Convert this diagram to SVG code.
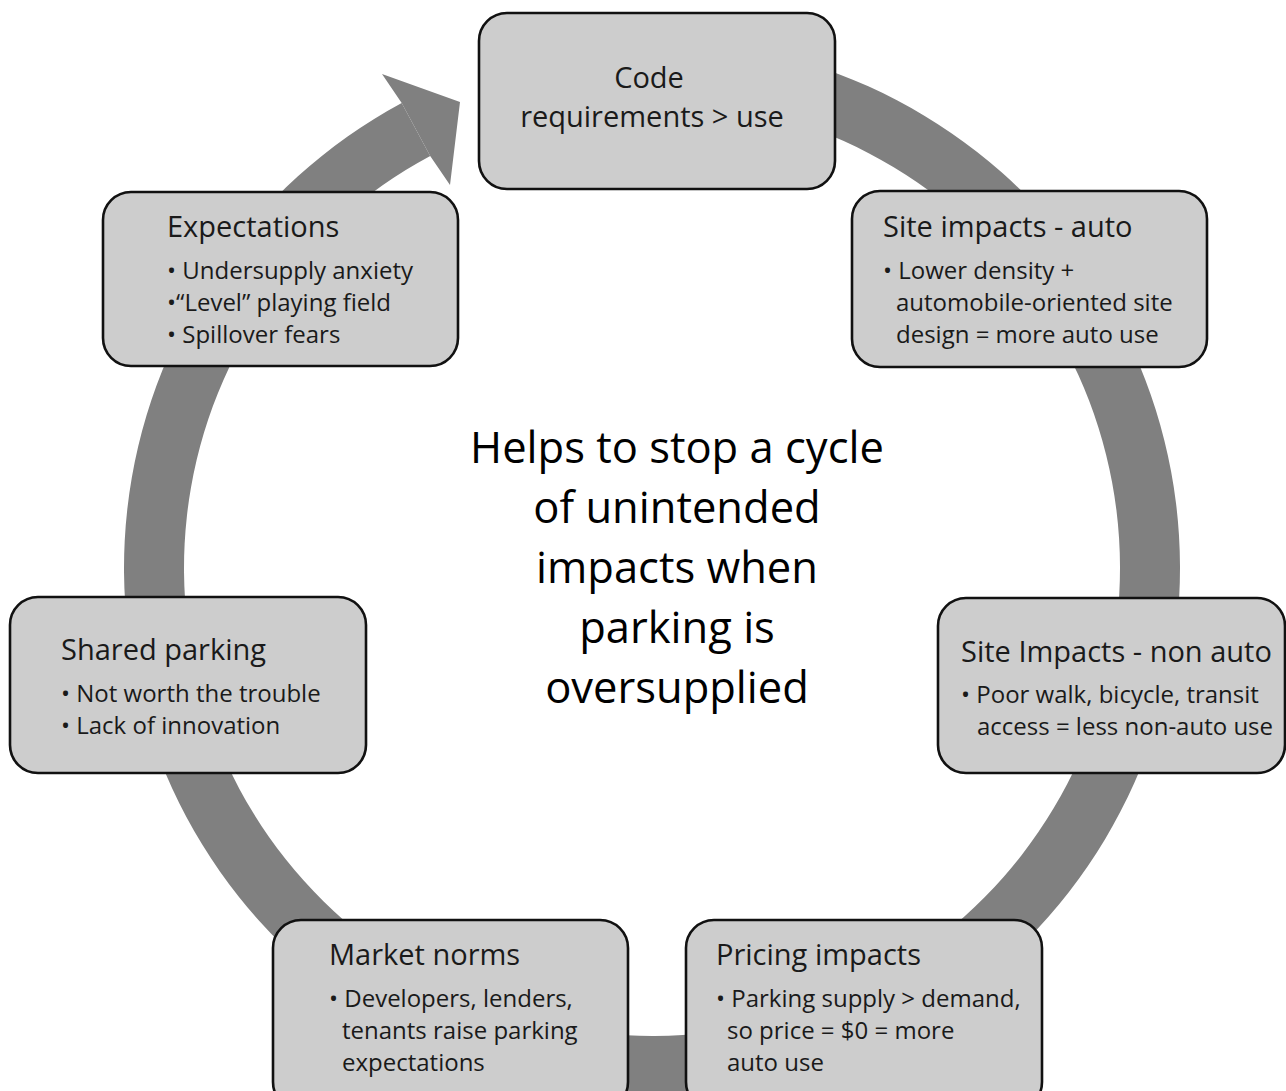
<svg xmlns="http://www.w3.org/2000/svg" width="1286" height="1091" viewBox="0 0 1286 1091">
<style>
.box{fill:#cdcdcd;stroke:#111;stroke-width:2.6}
.t{font-family:"Open Sans","DejaVu Sans",sans-serif;fill:#1a1a1a}
.title{font-size:29px}
.b{font-size:24px}
.center{font-family:"Open Sans","DejaVu Sans",sans-serif;font-size:43.5px;fill:#000;text-anchor:middle}
.ring{fill:#808080}
</style>
<rect width="1286" height="1091" fill="#fff"/>
<g id="connectors">
<path class="ring" d="M652,40 A528,528 0 1 1 401.7,103.1 L430.2,155.9 A468,468 0 1 0 652,100 Z"/>
<polygon class="ring" points="401.7,103.1 382,74 460,102 450,185 430.2,155.9"/>
</g>
<g id="node-code">
<rect class="box" x="479" y="13" width="356" height="176" rx="28"/>
<text class="t title" x="649" y="88" text-anchor="middle">Code</text>
<text class="t title" x="652" y="127" text-anchor="middle">requirements &gt; use</text>
</g>
<g id="node-site-auto">
<rect class="box" x="852" y="191" width="355" height="176" rx="28"/>
<text class="t title" x="883" y="237">Site impacts - auto</text>
<text class="t b" x="883" y="279">• Lower density +</text>
<text class="t b" x="896" y="311">automobile-oriented site</text>
<text class="t b" x="896" y="343">design = more auto use</text>
</g>
<g id="node-expectations">
<rect class="box" x="103" y="192" width="355" height="174" rx="28"/>
<text class="t title" x="167" y="237">Expectations</text>
<text class="t b" x="167" y="279">• Undersupply anxiety</text>
<text class="t b" x="167" y="311">•“Level” playing field</text>
<text class="t b" x="167" y="343">• Spillover fears</text>
</g>
<g id="node-shared">
<rect class="box" x="10" y="597" width="356" height="176" rx="28"/>
<text class="t title" x="61" y="660">Shared parking</text>
<text class="t b" x="61" y="702">• Not worth the trouble</text>
<text class="t b" x="61" y="734">• Lack of innovation</text>
</g>
<g id="node-site-nonauto">
<rect class="box" x="938" y="598" width="347" height="175" rx="28"/>
<text class="t title" x="961" y="662">Site Impacts - non auto</text>
<text class="t b" x="961" y="703">• Poor walk, bicycle, transit</text>
<text class="t b" x="977" y="735">access = less non-auto use</text>
</g>
<g id="node-market">
<rect class="box" x="273" y="920" width="355" height="190" rx="28"/>
<text class="t title" x="329" y="965">Market norms</text>
<text class="t b" x="329" y="1007">• Developers, lenders,</text>
<text class="t b" x="342" y="1039">tenants raise parking</text>
<text class="t b" x="342" y="1071">expectations</text>
</g>
<g id="node-pricing">
<rect class="box" x="686" y="920" width="356" height="190" rx="28"/>
<text class="t title" x="716" y="965">Pricing impacts</text>
<text class="t b" x="716" y="1007">• Parking supply &gt; demand,</text>
<text class="t b" x="727" y="1039">so price = $0 = more</text>
<text class="t b" x="727" y="1071">auto use</text>
</g>
<g id="center-text">
<text class="center" x="677" y="463">Helps to stop a cycle</text>
<text class="center" x="677" y="523">of unintended</text>
<text class="center" x="677" y="583">impacts when</text>
<text class="center" x="677" y="643">parking is</text>
<text class="center" x="677" y="703">oversupplied</text>
</g>
</svg>
